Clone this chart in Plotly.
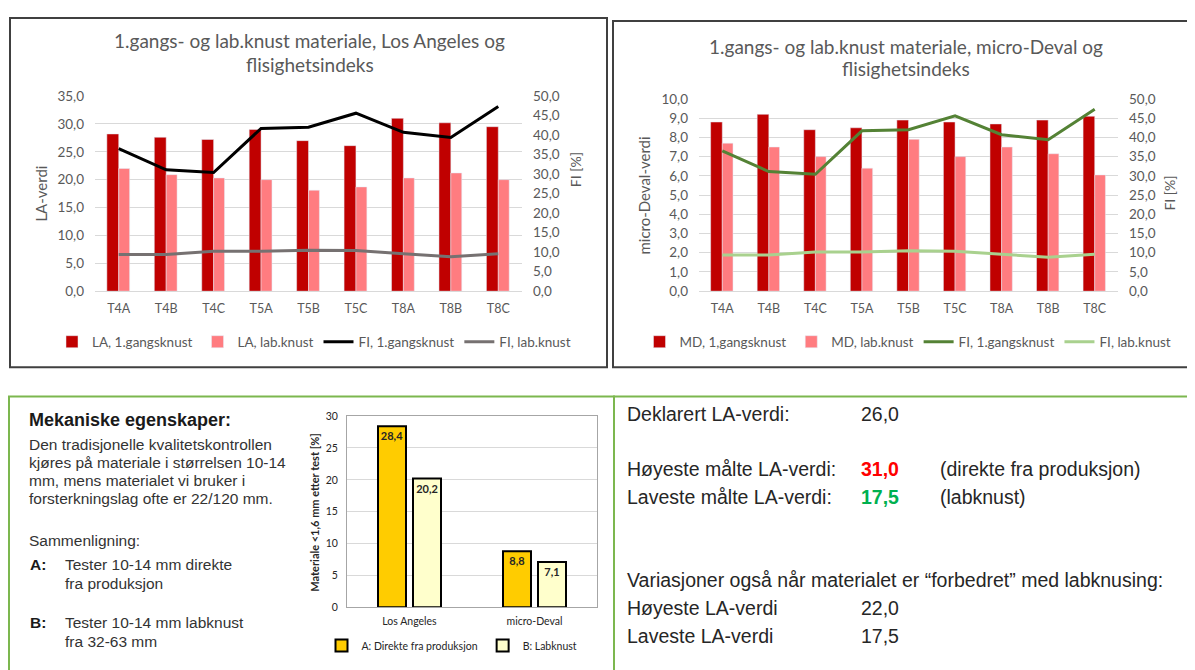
import plotly.graph_objects as go

W, H = 1195, 670
# the page body keeps its 8px default margin, so the figure is drawn 8px in
OX, OY = 8, 8
FW, FH = W - OX, H - OY

# --- data ---
kategorier = ["T4A", "T4B", "T4C", "T5A", "T5B", "T5C", "T8A", "T8B", "T8C"]
la_1gang = [28.2, 27.6, 27.2, 29.0, 27.0, 26.1, 31.0, 30.2, 29.5]
la_lab = [22.0, 20.9, 20.3, 20.0, 18.1, 18.7, 20.3, 21.2, 20.0]
md_1gang = [8.8, 9.2, 8.4, 8.5, 8.9, 8.8, 8.7, 8.9, 9.1]
md_lab = [7.7, 7.5, 7.0, 6.4, 7.9, 7.0, 7.5, 7.15, 6.05]
fi_1gang = [36.5, 31.1, 30.4, 41.7, 42.0, 45.6, 40.7, 39.4, 47.3]
fi_lab = [9.4, 9.4, 10.2, 10.2, 10.5, 10.4, 9.6, 8.8, 9.6]

metoder = ["Los Angeles", "micro-Deval"]
snitt_a = [28.4, 8.8]
snitt_b = [20.2, 7.1]

intro_linjer = [
    "Den tradisjonelle kvalitetskontrollen",
    "kjøres på materiale i størrelsen 10-14",
    "mm, mens materialet vi bruker i",
    "forsterkningslag ofte er 22/120 mm.",
]


def px(x):
    return (x - OX) / FW


def py(y):
    return 1 - (y - OY) / FH


GRA = "#595959"
GRID = "#D9D9D9"
CHART_FONT = "Lato"
TEXT_FONT = "Liberation Sans, Arial"

fig = go.Figure()

# chart 1: Los Angeles + FI
fig.add_trace(go.Bar(x=kategorier, y=la_1gang, name="LA, 1.gangsknust", marker_color="#C00000",
                     width=0.25, offset=-0.25, xaxis="x", yaxis="y", legend="legend"))
fig.add_trace(go.Bar(x=kategorier, y=la_lab, name="LA, lab.knust", marker_color="#FF7C80",
                     width=0.23, offset=0.0, xaxis="x", yaxis="y", legend="legend"))
fig.add_trace(go.Scatter(x=kategorier, y=fi_1gang, name="FI, 1.gangsknust", mode="lines",
                         line=dict(color="black", width=3), xaxis="x", yaxis="y2", legend="legend"))
fig.add_trace(go.Scatter(x=kategorier, y=fi_lab, name="FI, lab.knust", mode="lines",
                         line=dict(color="#767171", width=3), xaxis="x", yaxis="y2", legend="legend"))

# chart 2: micro-Deval + FI
fig.add_trace(go.Bar(x=kategorier, y=md_1gang, name="MD, 1,gangsknust", marker_color="#C00000",
                     width=0.25, offset=-0.25, xaxis="x2", yaxis="y3", legend="legend2"))
fig.add_trace(go.Bar(x=kategorier, y=md_lab, name="MD, lab.knust", marker_color="#FF7C80",
                     width=0.23, offset=0.0, xaxis="x2", yaxis="y3", legend="legend2"))
fig.add_trace(go.Scatter(x=kategorier, y=fi_1gang, name="FI, 1.gangsknust", mode="lines",
                         line=dict(color="#548235", width=3), xaxis="x2", yaxis="y4", legend="legend2"))
fig.add_trace(go.Scatter(x=kategorier, y=fi_lab, name="FI, lab.knust", mode="lines",
                         line=dict(color="#A9D18E", width=3), xaxis="x2", yaxis="y4", legend="legend2"))

# chart 3: averages
bar_txt = dict(family=CHART_FONT, size=11, color="#262626", weight="bold")
fig.add_trace(go.Bar(x=metoder, y=snitt_a, name="A: Direkte fra produksjon",
                     marker=dict(color="#FFCC00", line=dict(color="black", width=2)),
                     width=0.224, offset=-0.252, texttemplate="%{y:.1f}",
                     textposition="inside", insidetextanchor="end", textangle=0, constraintext="none",
                     textfont=bar_txt, xaxis="x3", yaxis="y5", legend="legend3"))
fig.add_trace(go.Bar(x=metoder, y=snitt_b, name="B: Labknust",
                     marker=dict(color="#FFFFCC", line=dict(color="black", width=2)),
                     width=0.224, offset=0.028, texttemplate="%{y:.1f}",
                     textposition="inside", insidetextanchor="end", textangle=0, constraintext="none",
                     textfont=bar_txt, xaxis="x3", yaxis="y5", legend="legend3"))

tick = dict(family=CHART_FONT, size=13.5, color=GRA)
cat_axis = dict(type="category", range=[-0.5, 8.5], showgrid=False, showline=True, linecolor=GRID,
                ticks="", tickfont=dict(family=CHART_FONT, size=12.5, color=GRA), ticklabelstandoff=6)
leg_font = dict(family=CHART_FONT, size=13.5, color=GRA)

fig.update_layout(
    width=FW, height=FH, autosize=False,
    margin=dict(l=0, r=0, t=0, b=0),
    paper_bgcolor="white", plot_bgcolor="rgba(0,0,0,0)",
    separators=", ",
    barmode="overlay",
    xaxis=dict(domain=[px(95), px(522)], anchor="y", **cat_axis),
    yaxis=dict(domain=[py(290), py(90)], anchor="x", range=[0, 35], dtick=5, tickformat=".1f",
               gridcolor=GRID, zeroline=False, showline=False, tickfont=tick, ticklabelstandoff=10),
    yaxis2=dict(overlaying="y", side="right", anchor="x", range=[0, 50], dtick=5, tickformat=".1f",
                showgrid=False, zeroline=False, showline=False, tickfont=tick, ticklabelstandoff=10),
    xaxis2=dict(domain=[px(699), px(1118)], anchor="y3", **cat_axis),
    yaxis3=dict(domain=[py(290), py(93)], anchor="x2", range=[0, 10], dtick=1, tickformat=".1f",
                gridcolor=GRID, zeroline=False, showline=False, tickfont=tick, ticklabelstandoff=10),
    yaxis4=dict(overlaying="y3", side="right", anchor="x2", range=[0, 50], dtick=5, tickformat=".1f",
                showgrid=False, zeroline=False, showline=False, tickfont=tick, ticklabelstandoff=10),
    xaxis3=dict(domain=[px(347), px(597)], anchor="y5", type="category", range=[-0.5, 1.5],
                showline=True, mirror=True, linecolor="#A6A6A6", linewidth=1, ticks="",
                tickfont=dict(family=CHART_FONT, size=10.5, color="#262626"), ticklabelstandoff=4),
    yaxis5=dict(domain=[py(614), py(418)], anchor="x3", range=[0, 30], dtick=5,
                gridcolor=GRID, zeroline=False, showline=True, mirror=True, linecolor="#A6A6A6",
                tickfont=dict(family=CHART_FONT, size=10.5, color="#262626"), ticklabelstandoff=6),
    legend=dict(orientation="h", x=px(314), y=py(342), xanchor="center", yanchor="middle",
                font=leg_font, bgcolor="rgba(0,0,0,0)", itemwidth=30, tracegroupgap=0),
    legend2=dict(orientation="h", x=px(908), y=py(342), xanchor="center", yanchor="middle",
                 font=leg_font, bgcolor="rgba(0,0,0,0)", itemwidth=30, tracegroupgap=0),
    legend3=dict(orientation="h", x=px(452), y=py(653), xanchor="center", yanchor="middle",
                 font=dict(family=CHART_FONT, size=10.5, color="#262626"), bgcolor="rgba(0,0,0,0)",
                 itemwidth=30, tracegroupgap=0),
    showlegend=True,
)

# frames around the panels
fig.add_shape(type="rect", xref="paper", yref="paper", x0=px(10), x1=px(607), y0=py(368), y1=py(10),
              line=dict(color="#404040", width=2))
fig.add_shape(type="rect", xref="paper", yref="paper", x0=px(613), x1=px(1191), y0=py(368), y1=py(13),
              line=dict(color="#404040", width=2))
fig.add_shape(type="rect", xref="paper", yref="paper", x0=px(9), x1=px(614), y0=py(680), y1=py(398),
              line=dict(color="#7CB74F", width=2))
fig.add_shape(type="rect", xref="paper", yref="paper", x0=px(614), x1=px(1193), y0=py(680), y1=py(398),
              line=dict(color="#7CB74F", width=2))


def tekst(x, y, s, size=13, color="#262626", family=TEXT_FONT, anchor="left", angle=0, bold=False):
    fig.add_annotation(x=px(x), y=py(y), xref="paper", yref="paper", text=s, showarrow=False,
                       xanchor=anchor, yanchor="middle", textangle=angle,
                       font=dict(family=family, size=size, color=color, weight="bold" if bold else "normal"))


# chart titles
tekst(310, 33, "1.gangs- og lab.knust materiale, Los Angeles og", 19, GRA, CHART_FONT, "center")
tekst(310, 58, "flisighetsindeks", 19, GRA, CHART_FONT, "center")
tekst(906, 39, "1.gangs- og lab.knust materiale, micro-Deval og", 19, GRA, CHART_FONT, "center")
tekst(906, 62, "flisighetsindeks", 19, GRA, CHART_FONT, "center")

# axis titles
tekst(41, 190, "LA-verdi", 15, GRA, CHART_FONT, "center", -90)
tekst(575, 166, "FI [%]", 14, GRA, CHART_FONT, "center", -90)
tekst(644, 192, "micro-Deval-verdi", 15, GRA, CHART_FONT, "center", -90)
tekst(1170, 190, "FI [%]", 14, GRA, CHART_FONT, "center", -90)
tekst(315, 517, "Materiale <1,6 mm etter test [%]", 11, "#262626", CHART_FONT, "center", -90, True)

# left text block
tekst(27, 422, "Mekaniske egenskaper:", 18, "#1A1A1A", bold=True)
for i, linje in enumerate(intro_linjer):
    tekst(27, 447 + i * 18.4, linje, 15.5, "#333333")
tekst(27, 545, "Sammenligning:", 15.5, "#333333")
tekst(28, 570, "A:", 15.5, "#1A1A1A", bold=True)
tekst(63, 570, "Tester 10-14 mm direkte", 15.5, "#333333")
tekst(63, 590, "fra produksjon", 15.5, "#333333")
tekst(28, 630, "B:", 15.5, "#1A1A1A", bold=True)
tekst(63, 630, "Tester 10-14 mm labknust", 15.5, "#333333")
tekst(63, 649, "fra 32-63 mm", 15.5, "#333333")

# right text block
FS = 19.5
tekst(625, 416, "Deklarert LA-verdi:", FS)
tekst(859, 416, "26,0", FS)
tekst(625, 472, "Høyeste målte LA-verdi:", FS)
tekst(859, 472, "31,0", FS, "#FF0000", bold=True)
tekst(938, 472, "(direkte fra produksjon)", FS)
tekst(625, 501, "Laveste målte LA-verdi:", FS)
tekst(859, 501, "17,5", FS, "#00B050", bold=True)
tekst(938, 501, "(labknust)", FS)
tekst(625, 586, "Variasjoner også når materialet er “forbedret” med labknusing:", FS)
tekst(625, 615, "Høyeste LA-verdi", FS)
tekst(859, 615, "22,0", FS)
tekst(625, 643, "Laveste LA-verdi", FS)
tekst(859, 643, "17,5", FS)

fig.write_html("out.html")
